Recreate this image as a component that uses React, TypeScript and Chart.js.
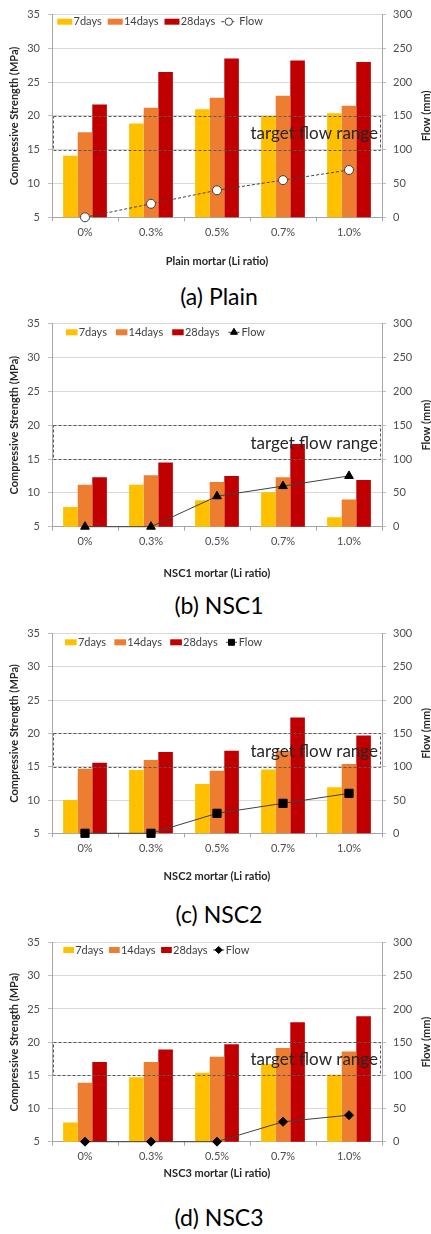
import React, { useEffect, useRef } from "react";
import { Chart, registerables } from "chart.js";

Chart.register(...registerables);

// ---------- data ----------
const categories = ["0%", "0.3%", "0.5%", "0.7%", "1.0%"];
const seriesNames = ["7days", "14days", "28days", "Flow"];
const leftTickRange = [5, 35, 5]; // min, max, step (MPa)
const rightTickRange = [0, 300, 50]; // min, max, step (mm)
const targetFlowRange = [100, 150];

const plain7 = [14.1, 18.9, 21.0, 20.0, 20.4];
const plain14 = [17.6, 21.2, 22.7, 23.0, 21.5];
const plain28 = [21.7, 26.5, 28.5, 28.2, 28.0];
const plainFlow = [0, 20, 40, 55, 70];

const nsc1_7 = [7.9, 11.2, 8.9, 10.1, 6.4];
const nsc1_14 = [11.2, 12.6, 11.6, 12.3, 9.0];
const nsc1_28 = [12.3, 14.5, 12.5, 17.2, 11.9];
const nsc1Flow = [0, 0, 45, 60, 75];

const nsc2_7 = [10.0, 14.5, 12.4, 14.6, 11.9];
const nsc2_14 = [14.7, 16.0, 14.4, 17.4, 15.4];
const nsc2_28 = [15.6, 17.2, 17.4, 22.4, 19.7];
const nsc2Flow = [0, 0, 30, 45, 60];

const nsc3_7 = [7.9, 14.7, 15.4, 16.7, 15.1];
const nsc3_14 = [13.9, 17.0, 17.8, 19.1, 18.6];
const nsc3_28 = [17.0, 18.9, 19.7, 23.0, 23.9];
const nsc3Flow = [0, 0, 0, 30, 40];

const xTitles = [
  "Plain mortar (Li ratio)",
  "NSC1 mortar (Li ratio)",
  "NSC2 mortar (Li ratio)",
  "NSC3 mortar (Li ratio)",
];
const captions = ["(a) Plain", "(b) NSC1", "(c) NSC2", "(d) NSC3"];
const leftTitle = "Compressive Strength (MPa)";
const rightTitle = "Flow (mm)";
const targetLabel = "target flow range";

const panelData = [
  [plain7, plain14, plain28, plainFlow],
  [nsc1_7, nsc1_14, nsc1_28, nsc1Flow],
  [nsc2_7, nsc2_14, nsc2_28, nsc2Flow],
  [nsc3_7, nsc3_14, nsc3_28, nsc3Flow],
];

// ---------- styles / layout ----------
const barColors = ["#FFC000", "#ED7D31", "#C00000"];
const FONT = "Lato";
const tickColor = "#4d4d4d";
const titleColor = "#262626";

type Layout = {
  plotTop: number;
  plotBottom: number;
  xTitleY: number;
  captionY: number;
  legend: { x: number; y: number; boxW: number; gap: number; segW: number; segGap: number };
  marker: { style: string; radius: number; fill: string; stroke: string; legendR: number };
  dash: number[];
};

const layouts: Layout[] = [
  {
    plotTop: 12.7, plotBottom: 217.3, xTitleY: 261, captionY: 296,
    legend: { x: 57.3, y: 21.7, boxW: 15, gap: 6, segW: 13, segGap: 5 },
    marker: { style: "circle", radius: 4.5, fill: "#ffffff", stroke: "#404040", legendR: 3.7 },
    dash: [3, 2],
  },
  {
    plotTop: 321.7, plotBottom: 526.7, xTitleY: 573, captionY: 605,
    legend: { x: 66, y: 332.3, boxW: 11.5, gap: 9, segW: 11, segGap: 2 },
    marker: { style: "triangle", radius: 5, fill: "#000000", stroke: "#000000", legendR: 4 },
    dash: [],
  },
  {
    plotTop: 631, plotBottom: 833.3, xTitleY: 876.7, captionY: 914,
    legend: { x: 65, y: 642.3, boxW: 11.7, gap: 8.3, segW: 11, segGap: 1.7 },
    marker: { style: "rect", radius: 5.8, fill: "#000000", stroke: "#000000", legendR: 4.2 },
    dash: [],
  },
  {
    plotTop: 940, plotBottom: 1141.7, xTitleY: 1173.3, captionY: 1217,
    legend: { x: 63.3, y: 950, boxW: 10.7, gap: 5.6, segW: 11, segGap: 1.6 },
    marker: { style: "rectRot", radius: 4.5, fill: "#000000", stroke: "#000000", legendR: 3.6 },
    dash: [],
  },
];

function drawMarker(ctx: CanvasRenderingContext2D, style: string, x: number, y: number, r: number, fill: string, stroke: string) {
  ctx.beginPath();
  if (style === "circle") {
    ctx.arc(x, y, r, 0, Math.PI * 2);
  } else if (style === "triangle") {
    let a = 0;
    for (let i = 0; i < 3; i++) {
      const px = x + Math.sin(a) * r;
      const py = y - Math.cos(a) * r;
      if (i === 0) ctx.moveTo(px, py);
      else ctx.lineTo(px, py);
      a += (Math.PI * 2) / 3;
    }
    ctx.closePath();
  } else if (style === "rect") {
    const s = Math.SQRT1_2 * r;
    ctx.rect(x - s, y - s, 2 * s, 2 * s);
  } else {
    ctx.moveTo(x, y - r);
    ctx.lineTo(x + r, y);
    ctx.lineTo(x, y + r);
    ctx.lineTo(x - r, y);
    ctx.closePath();
  }
  ctx.fillStyle = fill;
  ctx.fill();
  ctx.lineWidth = 1;
  ctx.strokeStyle = stroke;
  ctx.stroke();
}

function Panel({ idx }: { idx: number }) {
  const ref = useRef<HTMLCanvasElement>(null);
  const L = layouts[idx];
  const canvasTop = Math.floor(L.plotTop) - 12;
  const height = Math.ceil(L.xTitleY + 8) - canvasTop;
  const padTop = L.plotTop - canvasTop;
  const plotH = L.plotBottom - L.plotTop;
  const xAxisH = height - padTop - plotH;
  const titlePadBottom = Math.max(0, canvasTop + height - L.xTitleY - 6.6);

  useEffect(() => {
    const [s7, s14, s28, flow] = panelData[idx];
    const decor = {
      id: "decor" + idx,
      afterDatasetsDraw(chart: any) {
        const { ctx, chartArea } = chart;
        const y1 = chart.scales.y1;
        const yTop = y1.getPixelForValue(targetFlowRange[1]);
        const yBot = y1.getPixelForValue(targetFlowRange[0]);
        ctx.save();
        ctx.setLineDash([3, 2]);
        ctx.strokeStyle = "#595959";
        ctx.lineWidth = 1;
        ctx.strokeRect(chartArea.left + 1.5, Math.round(yTop) + 0.5, chartArea.right - chartArea.left - 3, Math.round(yBot) - Math.round(yTop));
        ctx.setLineDash([]);
        ctx.font = `17px ${FONT}`;
        ctx.fillStyle = titleColor;
        ctx.textAlign = "right";
        ctx.textBaseline = "middle";
        ctx.fillText(targetLabel, chartArea.right - 4, (yTop + yBot) / 2 + 1);
        ctx.restore();
      },
      afterDraw(chart: any) {
        const { ctx, chartArea } = chart;
        ctx.save();
        // legend
        const lg = L.legend;
        const cy = lg.y - canvasTop;
        let x = lg.x;
        ctx.font = `11px ${FONT}`;
        ctx.textBaseline = "middle";
        ctx.textAlign = "left";
        for (let i = 0; i < 3; i++) {
          ctx.fillStyle = barColors[i];
          ctx.fillRect(x, cy - 3, lg.boxW, 6);
          x += lg.boxW + 1.2;
          ctx.fillStyle = "#404040";
          ctx.fillText(seriesNames[i], x, cy);
          x += ctx.measureText(seriesNames[i]).width + lg.gap;
        }
        ctx.strokeStyle = "#404040";
        ctx.lineWidth = 1;
        ctx.setLineDash(L.dash);
        ctx.beginPath();
        ctx.moveTo(x, cy);
        ctx.lineTo(x + lg.segW, cy);
        ctx.stroke();
        ctx.setLineDash([]);
        drawMarker(ctx, L.marker.style, x + lg.segW / 2 + (idx === 0 ? 1 : 0), cy, L.marker.legendR, L.marker.fill, L.marker.stroke);
        x += lg.segW + lg.segGap;
        ctx.fillStyle = "#404040";
        ctx.fillText(seriesNames[3], x, cy);
        // right axis title
        ctx.font = `bold 11px ${FONT}`;
        ctx.fillStyle = titleColor;
        ctx.textAlign = "center";
        ctx.translate(426, (chartArea.top + chartArea.bottom) / 2);
        ctx.rotate(-Math.PI / 2);
        ctx.fillText(rightTitle, 0, 0);
        ctx.restore();
      },
    };

    const barBase = { barPercentage: 1, categoryPercentage: 0.663, yAxisID: "y", order: 1, borderWidth: 0 };
    const chart = new Chart(ref.current as HTMLCanvasElement, {
      type: "bar",
      data: {
        labels: categories,
        datasets: [
          { ...barBase, label: seriesNames[0], data: s7, backgroundColor: barColors[0] },
          { ...barBase, label: seriesNames[1], data: s14, backgroundColor: barColors[1] },
          { ...barBase, label: seriesNames[2], data: s28, backgroundColor: barColors[2] },
          {
            type: "line",
            label: seriesNames[3],
            data: flow,
            yAxisID: "y1",
            order: 0,
            borderColor: "#404040",
            borderWidth: 1,
            borderDash: L.dash,
            tension: 0,
            fill: false,
            clip: false,
            pointStyle: L.marker.style,
            pointRadius: L.marker.radius,
            pointBackgroundColor: L.marker.fill,
            pointBorderColor: L.marker.stroke,
            pointBorderWidth: 1,
          } as any,
        ],
      },
      options: {
        animation: false,
        responsive: false,
        devicePixelRatio: 1,
        layout: { padding: { top: padTop, left: 0, right: 0, bottom: 0 } },
        plugins: { legend: { display: false }, tooltip: { enabled: false } },
        scales: {
          x: {
            offset: true,
            grid: { offset: true, drawOnChartArea: false, tickLength: 4, color: "#a6a6a6" },
            border: { color: "#a6a6a6" },
            ticks: { font: { family: FONT, size: 11 }, color: tickColor, padding: 4.4 },
            title: {
              display: true,
              text: xTitles[idx],
              font: { family: FONT, size: 11, weight: "bold" },
              color: titleColor,
              padding: { top: 0, bottom: titlePadBottom },
            },
            afterFit: (s: any) => { s.height = xAxisH; },
          },
          y: {
            position: "left",
            min: leftTickRange[0],
            max: leftTickRange[1],
            ticks: { stepSize: leftTickRange[2], padding: 8, font: { family: FONT, size: 11 }, color: tickColor },
            grid: { color: "#d9d9d9", tickLength: 4, tickColor: "#bfbfbf" },
            border: { color: "#a6a6a6" },
            title: {
              display: true,
              text: leftTitle,
              font: { family: FONT, size: 11, weight: "bold" },
              color: titleColor,
              padding: { top: 7.4, bottom: 0 },
            },
            afterFit: (s: any) => { s.width = 52; },
          },
          y1: {
            position: "right",
            min: rightTickRange[0],
            max: rightTickRange[1],
            ticks: { stepSize: rightTickRange[2], padding: 7, font: { family: FONT, size: 11 }, color: tickColor },
            grid: { drawOnChartArea: false, tickLength: 4, color: "#bfbfbf" },
            border: { color: "#a6a6a6" },
            afterFit: (s: any) => { s.width = 49; },
          },
        },
      } as any,
      plugins: [decor],
    });
    return () => chart.destroy();
  }, []);

  return (
    <>
      <canvas
        ref={ref}
        width={431}
        height={height}
        style={{ position: "absolute", left: 0, top: canvasTop, width: 431, height, display: "block" }}
      />
      <div
        style={{
          position: "absolute",
          left: 0,
          width: 438,
          top: L.captionY - 15,
          height: 30,
          lineHeight: "30px",
          textAlign: "center",
          fontFamily: FONT,
          fontSize: 23,
          color: "#000",
          whiteSpace: "nowrap",
        }}
      >
        {captions[idx]}
      </div>
    </>
  );
}

export default function App() {
  return (
    <div style={{ position: "absolute", left: 0, top: 0, width: 431, height: 1234, background: "#fff", overflow: "hidden" }}>
      {[0, 1, 2, 3].map((i) => (
        <Panel key={i} idx={i} />
      ))}
    </div>
  );
}
